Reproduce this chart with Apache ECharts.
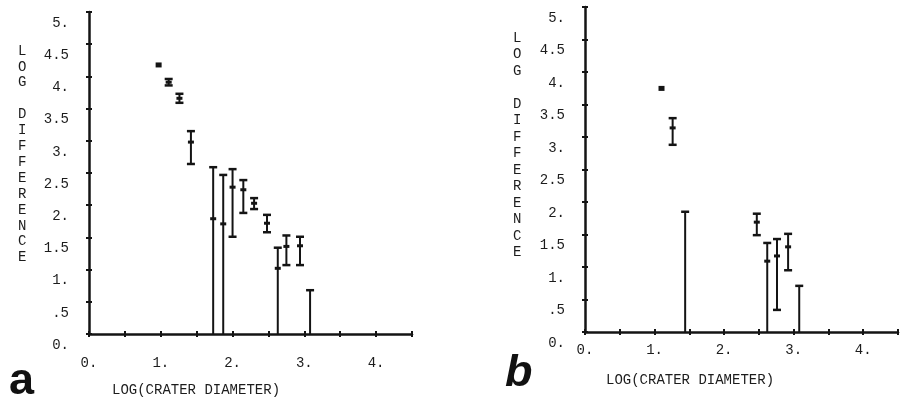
<!DOCTYPE html>
<html>
<head>
<meta charset="utf-8">
<script src="https://cdn.jsdelivr.net/npm/echarts@6/dist/echarts.min.js"></script>
<style>
html,body{margin:0;padding:0;background:#fff;}
#chart{width:901px;height:402px;}
</style>
</head>
<body>
<div id="chart"></div>
<script>
// ---- Data ----
// Panel a
const xA      = [0.97, 1.11, 1.26, 1.42, 1.73, 1.87, 2.00, 2.15, 2.30, 2.48, 2.63, 2.75, 2.94, 3.08];
const centerA = [4.17, 3.91, 3.66, 2.98, 1.79, 1.71, 2.28, 2.24, 2.03, 1.72, 1.02, 1.36, 1.37, null];
const hiA     = [4.17, 3.96, 3.73, 3.15, 2.59, 2.47, 2.56, 2.39, 2.11, 1.85, 1.34, 1.53, 1.51, 0.68];
const loA     = [4.17, 3.86, 3.59, 2.64, 0.00, 0.00, 1.51, 1.88, 1.94, 1.58, 0.00, 1.07, 1.07, 0.00];
// Panel b
const xB      = [1.10, 1.26, 1.44, 2.47, 2.62, 2.76, 2.92, 3.08];
const centerB = [3.74, 3.14, null, 1.69, 1.09, 1.17, 1.31, null];
const hiB     = [3.74, 3.29, 1.85, 1.82, 1.37, 1.43, 1.51, 0.71];
const loB     = [3.74, 2.88, 0.00, 1.49, 0.00, 0.34, 0.95, 0.00];

const yTickLabels = ['0.', '.5', '1.', '1.5', '2.', '2.5', '3.', '3.5', '4.', '4.5', '5.'];
const xTickLabels = ['0.', '', '1.', '', '2.', '', '3.', '', '4.', ''];
const yTitle = 'LOG DIFFERENCE';
const xTitle = 'LOG(CRATER DIAMETER)';
const panelLetters = ['a', 'b'];

// ---- Chart ----
const INK = '#141414';
const TXT = '#1c1c1c';
const MONO = '"Liberation Mono", "DejaVu Sans Mono", monospace';

function yFmt(v){ const i = Math.round(v / 0.5); return yTickLabels[i] !== undefined ? yTickLabels[i] : ''; }
function xFmt(v){ const i = Math.round(v / 0.5); return xTickLabels[i] !== undefined ? xTickLabels[i] : ''; }

function mainX(grid, margin){
  return {gridIndex:grid, type:'value', position:'bottom', min:0, max:4.5, interval:0.5,
    axisLine:{onZero:false, lineStyle:{color:INK, width:2.5}},
    axisTick:{length:3, lineStyle:{color:INK, width:2}},
    splitLine:{show:false},
    axisLabel:{formatter:xFmt, margin:margin, color:TXT, fontFamily:MONO, fontSize:14, showMinLabel:true, showMaxLabel:true}};
}
function mainY(grid){
  return {gridIndex:grid, type:'value', position:'left', min:0, max:5, interval:0.5,
    axisLine:{onZero:false, lineStyle:{color:INK, width:2.5}},
    axisTick:{length:3, lineStyle:{color:INK, width:2}},
    splitLine:{show:false},
    axisLabel:{formatter:yFmt, margin:20, color:TXT, fontFamily:MONO, fontSize:14,
      verticalAlign:'top', padding:[4,0,0,0], showMinLabel:true, showMaxLabel:true}};
}
function innerX(grid){
  return {gridIndex:grid, type:'value', position:'bottom', min:0, max:4.5, interval:0.5,
    axisLine:{show:false, onZero:false}, axisTick:{show:true, inside:true, length:3, lineStyle:{color:INK, width:2}},
    axisLabel:{show:false}, splitLine:{show:false}};
}
function innerY(grid){
  return {gridIndex:grid, type:'value', position:'left', min:0, max:5, interval:0.5,
    axisLine:{show:false, onZero:false}, axisTick:{show:true, inside:true, length:3, lineStyle:{color:INK, width:2}},
    axisLabel:{show:false}, splitLine:{show:false}};
}

function makeRender(centers){
  return function(params, api){
    const x = api.value(0), hi = api.value(1), lo = api.value(2);
    const c = centers[params.dataIndex];
    const pHi = api.coord([x, hi]);
    const pLo = api.coord([x, lo]);
    const children = [];
    const st = {stroke:INK, lineWidth:2};
    if (Math.abs(pHi[1] - pLo[1]) < 1.5) {
      children.push({type:'rect', shape:{x:pHi[0]-3, y:pHi[1]-3, width:6, height:5}, style:{fill:INK}});
    } else {
      children.push({type:'line', shape:{x1:pHi[0], y1:pHi[1], x2:pLo[0], y2:pLo[1]}, style:st});
      children.push({type:'line', shape:{x1:pHi[0]-4, y1:pHi[1], x2:pHi[0]+4, y2:pHi[1]}, style:{stroke:INK, lineWidth:2.5}});
      if (lo > 0) children.push({type:'line', shape:{x1:pLo[0]-4, y1:pLo[1], x2:pLo[0]+4, y2:pLo[1]}, style:{stroke:INK, lineWidth:2.5}});
      if (c !== null && c !== undefined) {
        const pc = api.coord([x, c]);
        children.push({type:'line', shape:{x1:pc[0]-3, y1:pc[1], x2:pc[0]+3, y2:pc[1]}, style:{stroke:INK, lineWidth:3}});
      }
    }
    return {type:'group', children:children};
  };
}

function stackLetters(s){ return s.split('').join('\n'); }

const option = {
  animation:false,
  backgroundColor:'#ffffff',
  grid:[
    {left:89, top:12, width:323, height:322},
    {left:585, top:7, width:324, height:325}
  ],
  xAxis:[mainX(0, 22), mainX(1, 11), innerX(0), innerX(1)],
  yAxis:[mainY(0), mainY(1), innerY(0), innerY(1)],
  series:[
    {type:'custom', xAxisIndex:0, yAxisIndex:0, clip:false,
      data:xA.map((x,i)=>[x, hiA[i], loA[i]]), renderItem:makeRender(centerA)},
    {type:'custom', xAxisIndex:1, yAxisIndex:1, clip:false,
      data:xB.map((x,i)=>[x, hiB[i], loB[i]]), renderItem:makeRender(centerB)}
  ],
  graphic:[
    {type:'text', left:18, top:43, style:{text:stackLetters(yTitle), font:'14px '+MONO, lineHeight:15.9, fill:TXT, align:'center'}},
    {type:'text', left:513, top:30, style:{text:stackLetters(yTitle), font:'14px '+MONO, lineHeight:16.5, fill:TXT, align:'center'}},
    {type:'text', left:112, top:383, style:{text:xTitle, font:'14px '+MONO, fill:TXT}},
    {type:'text', left:606, top:373, style:{text:xTitle, font:'14px '+MONO, fill:TXT}},
    {type:'text', left:9, top:359, style:{text:panelLetters[0], font:'bold 45px "Liberation Sans", Arial, sans-serif', fill:'#111'}},
    {type:'text', left:505, top:351, style:{text:panelLetters[1], font:'italic bold 45px "Liberation Sans", Arial, sans-serif', fill:'#111'}}
  ]
};

const chart = echarts.init(document.getElementById('chart'), null, {renderer:'canvas'});
chart.setOption(option);
</script>
</body>
</html>
